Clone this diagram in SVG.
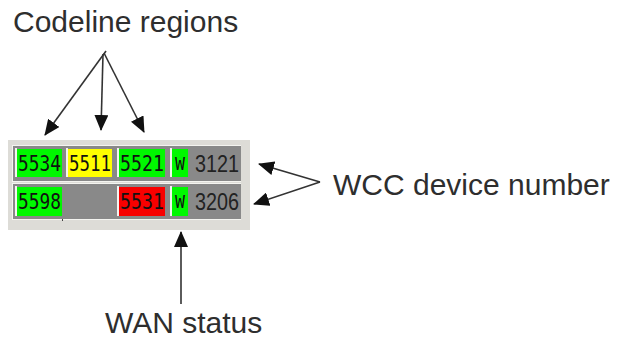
<svg xmlns="http://www.w3.org/2000/svg" width="618" height="342" viewBox="0 0 618 342">
  <style>
    .label { font-family: "Liberation Sans", Arial, sans-serif; font-size: 30px; fill: #2e2e2e; }
    .band { fill: #898989; }
    .hl { fill: #f4f4f0; }
    .cell-text { font-family: "DejaVu Sans Mono", "Liberation Mono", monospace; font-size: 22px; fill: #111; }
    .w-text { font-family: "DejaVu Sans Mono", "Liberation Mono", monospace; font-size: 18px; fill: #111; }
    .dev { font-family: "Liberation Sans", Arial, sans-serif; font-size: 23px; fill: #222; }
    .ok { fill: #00f800; }
    .warn { fill: #ffff00; }
    .bad { fill: #f80000; }
    .conn { stroke: #333; stroke-width: 1.6; fill: none; marker-end: url(#head); }
  </style>
  <defs>
    <marker id="head" viewBox="0 0 16 14" refX="15" refY="7" markerWidth="16" markerHeight="14" markerUnits="userSpaceOnUse" orient="auto">
      <path d="M0,0 L16,7 L0,14 z" fill="#111"/>
    </marker>
  </defs>

  <rect width="618" height="342" fill="#fff"/>

  <!-- status panel -->
  <g id="panel">
    <rect x="8" y="140" width="242" height="90" fill="#dddcd7"/>
    <!-- row 1 -->
    <rect class="hl" x="12" y="145" width="229" height="37"/>
    <rect class="band" x="13" y="146" width="228" height="35"/>
    <!-- row 2 -->
    <rect class="hl" x="12" y="183" width="229" height="37"/>
    <rect class="band" x="13" y="184" width="228" height="35"/>
  </g>

  <g id="cell-5534">
    <rect class="hl" x="15" y="148" width="2" height="29"/>
    <rect class="ok" x="17" y="149" width="45" height="28"/>
    <text class="cell-text" x="18" y="171" textLength="43" lengthAdjust="spacingAndGlyphs">5534</text>
  </g>
  <g id="cell-5511">
    <rect class="hl" x="66" y="148" width="2" height="29"/>
    <rect class="warn" x="68" y="149" width="44" height="28"/>
    <text class="cell-text" x="69" y="171" textLength="42" lengthAdjust="spacingAndGlyphs">5511</text>
  </g>
  <g id="cell-5521">
    <rect class="hl" x="117" y="148" width="2" height="29"/>
    <rect class="ok" x="119" y="149" width="46" height="28"/>
    <text class="cell-text" x="120" y="171" textLength="44" lengthAdjust="spacingAndGlyphs">5521</text>
  </g>
  <g id="wan-1">
    <rect class="hl" x="170" y="148" width="2" height="29"/>
    <rect class="ok" x="172" y="149" width="16" height="28"/>
    <text class="w-text" x="175" y="170" textLength="10" lengthAdjust="spacingAndGlyphs">W</text>
  </g>
  <g id="device-3121">
    <text class="dev" x="195" y="172" textLength="44" lengthAdjust="spacingAndGlyphs">3121</text>
  </g>

  <g id="cell-5598">
    <rect class="hl" x="15" y="186" width="2" height="30"/>
    <rect class="ok" x="17" y="187" width="45" height="29"/>
    <text class="cell-text" x="18" y="209" textLength="43" lengthAdjust="spacingAndGlyphs">5598</text>
    <rect x="62" y="219" width="1" height="2" fill="#444"/>
  </g>
  <g id="cell-5531">
    <rect class="hl" x="117" y="186" width="2" height="30"/>
    <rect class="bad" x="119" y="187" width="46" height="29"/>
    <text class="cell-text" x="120" y="209" textLength="44" lengthAdjust="spacingAndGlyphs">5531</text>
  </g>
  <g id="wan-2">
    <rect class="hl" x="170" y="186" width="2" height="30"/>
    <rect class="ok" x="172" y="187" width="16" height="29"/>
    <text class="w-text" x="175" y="208" textLength="10" lengthAdjust="spacingAndGlyphs">W</text>
  </g>
  <g id="device-3206">
    <text class="dev" x="195" y="210" textLength="44" lengthAdjust="spacingAndGlyphs">3206</text>
  </g>

  <!-- labels -->
  <g id="label-codeline">
    <text class="label" x="13" y="32">Codeline regions</text>
  </g>
  <g id="label-wcc">
    <text class="label" x="333" y="195">WCC device number</text>
  </g>
  <g id="label-wan">
    <text class="label" x="105" y="333">WAN status</text>
  </g>

  <!-- connectors -->
  <g id="connectors">
    <line class="conn" x1="106" y1="51" x2="45" y2="135"/>
    <line class="conn" x1="103" y1="54" x2="101" y2="130"/>
    <line class="conn" x1="104" y1="53" x2="144" y2="132"/>
    <line class="conn" x1="320" y1="182" x2="259" y2="164"/>
    <line class="conn" x1="320" y1="182" x2="254" y2="204"/>
    <line class="conn" x1="181" y1="304" x2="181" y2="232"/>
  </g>
</svg>
